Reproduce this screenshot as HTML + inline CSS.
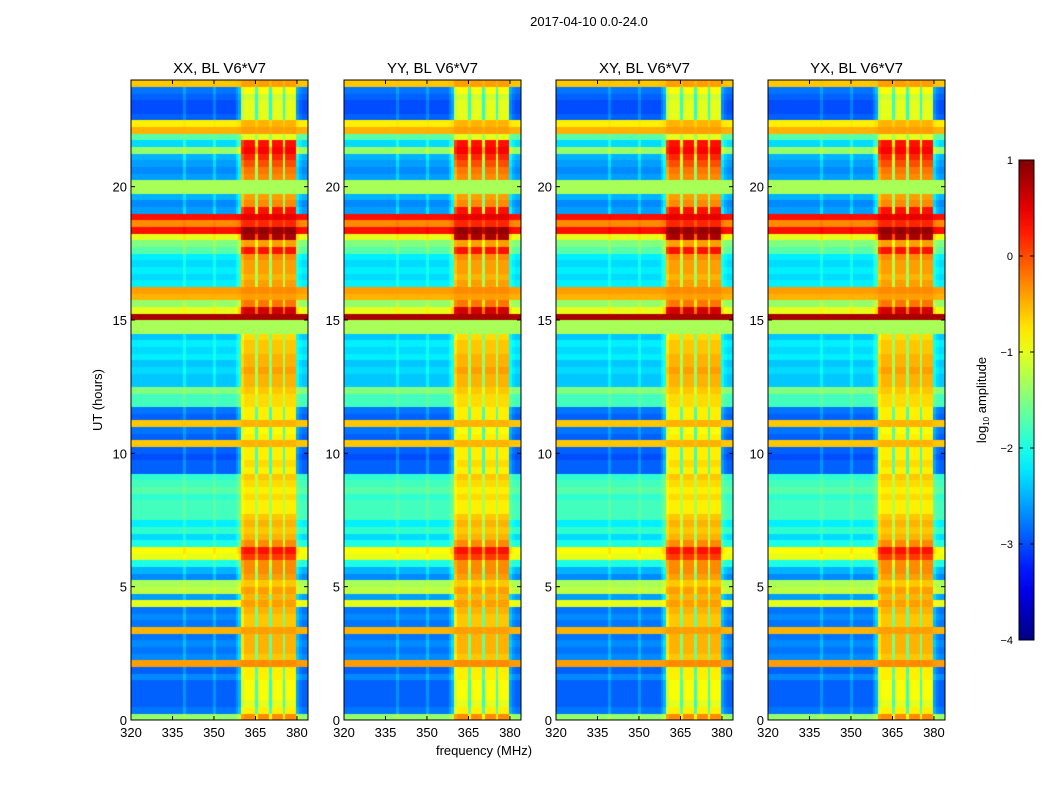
<!DOCTYPE html>
<html><head><meta charset="utf-8"><style>
html,body{margin:0;padding:0;background:#fff;width:1050px;height:800px;overflow:hidden}
#wrap{position:relative;width:1050px;height:800px}
canvas{position:absolute}
svg{position:absolute;left:0;top:0}
text{font-family:"Liberation Sans",sans-serif;fill:#000}
</style></head><body>
<div id="wrap">
<svg id="ov" width="1050" height="800"></svg>
</div>
<script>
// ---- data ----
const freqBins = [];            // 1 MHz channels 320..383
for (let f = 320; f < 384; f++) freqBins.push(f);
const colWeight = [0,0,0,0,0,0,0,0,0,0,0,0,0,0,0,0,0,0,0,0.12,0,0,0,0,0,0,0,0,0,0,0.12,0,0,0,0,0,0,0,0.1,0.2,
  0.9,1,1,1,1,0.55,1,1,1,1,0.5,1,1,1,1,0.55,1,1,1,1,0.15,0.05,0,0];
const rowBg = [-1.4,-2.8,-2.9,-2.9,-2.9,-2.9,-2.7,-2.9,-0.4,-2.7,-2.8,-2.7,-2.8,-0.5,-2.8,-2.7,
 -2.8,-1.0,-2.6,-1.2,-1.3,-2.7,-2.5,-2.0,-1.0,-0.9,-2.0,-2.3,-1.9,-2.2,-1.8,-1.8,
 -1.8,-1.9,-1.7,-1.8,-1.9,-2.9,-2.9,-3.0,-2.9,-0.6,-2.9,-2.8,-0.6,-2.9,-2.8,-1.8,
 -1.8,-1.5,-2.4,-2.4,-2.3,-2.4,-2.2,-2.3,-2.2,-2.4,-1.3,-1.3,0.8,-1.0,-1.4,-0.5,
 -0.4,-2.2,-2.3,-2.2,-2.3,-2.2,-1.7,-1.5,-1.0,0.3,-0.3,0.3,-2.6,-2.7,-2.5,-1.3,
 -1.3,-2.6,-2.7,-2.6,-2.5,-1.4,-2.3,-1.7,-0.5,-0.8,-2.9,-3.0,-3.0,-2.9,-2.8,-0.6];
const rowHot = [-0.3,-0.8,-1.0,-0.9,-0.9,-0.9,-0.8,-0.8,-0.3,-0.6,-0.5,-0.5,-0.5,-0.4,-0.6,-0.6,
 -0.5,-0.4,-0.5,-0.4,-0.6,-0.4,-0.3,-0.3,0.1,0.3,-0.3,-0.5,-0.6,-0.5,-0.6,-0.8,
 -0.8,-0.7,-0.8,-0.7,-0.6,-0.8,-0.7,-0.8,-0.8,-0.5,-0.8,-0.9,-0.5,-0.8,-0.8,-0.7,
 -0.7,-0.6,-0.5,-0.5,-0.4,-0.5,-0.5,-0.6,-0.6,-0.7,-1.3,-1.3,0.8,0.6,-0.2,-0.4,
 -0.3,-0.4,-0.5,-0.4,-0.4,-0.3,0.3,-0.4,0.8,0.9,0.2,0.5,0.3,-0.3,-0.4,-1.3,
 -1.3,-0.3,-0.2,0.0,0.2,0.4,0.3,-1.0,-0.4,-0.5,-1.0,-1.0,-1.0,-1.1,-0.9,-0.4];
const panelTitles = ["XX, BL V6*V7","YY, BL V6*V7","XY, BL V6*V7","YX, BL V6*V7"];
const xTicks = [320,335,350,365,380];
const yTicks = [0,5,10,15,20];
const cbTicks = [1,0,-1,-2,-3,-4];
</script>
<script>
const NS="http://www.w3.org/2000/svg";
const ov=document.getElementById('ov');
function mk(tag,attrs,txt){const e=document.createElementNS(NS,tag);for(const k in attrs)e.setAttribute(k,attrs[k]);if(txt!==undefined)e.textContent=txt;ov.appendChild(e);return e;}
function jet(v){
  const r=Math.min(Math.max(1.5-Math.abs(4*v-3),0),1);
  const g=Math.min(Math.max(1.5-Math.abs(4*v-2),0),1);
  const b=Math.min(Math.max(1.5-Math.abs(4*v-1),0),1);
  return `rgb(${Math.round(r*255)},${Math.round(g*255)},${Math.round(b*255)})`;
}
const vmin=-4,vmax=1;
const panelLeft=[131,344,556,768], pw=177, pTop=80, pBottom=720;
const fmin=320,fmax=384,tmin=0,tmax=24;
const X=(p,f)=>panelLeft[p]+(f-fmin)/(fmax-fmin)*pw;
const Y=h=>pBottom-(h-tmin)/(tmax-tmin)*(pBottom-pTop);
const t=mk('text',{x:589,y:26,'text-anchor':'middle','font-size':13},'2017-04-10 0.0-24.0');


for(let p=0;p<4;p++){
  const cv=document.createElement('canvas');
  cv.width=pw;cv.height=pBottom-pTop;cv.style.left=panelLeft[p]+'px';cv.style.top=pTop+'px';
  
  
  document.getElementById('wrap').insertBefore(cv,ov);
  const ctx=cv.getContext('2d');
  const nR=rowBg.length, dh=(tmax-tmin)/nR;
  for(let r=0;r<nR;r++){
    for(let c=0;c<freqBins.length;c++){
      const w=colWeight[c];
      const v=rowBg[r]+w*(rowHot[r]-rowBg[r]);
      ctx.fillStyle=jet((v-vmin)/(vmax-vmin));
      const x0=X(p,freqBins[c])-panelLeft[p], x1=X(p,freqBins[c]+1)-panelLeft[p];
      const y0=Y((r+1)*dh)-pTop, y1=Y(r*dh)-pTop;
      ctx.fillRect(Math.floor(x0),Math.floor(y0),Math.ceil(x1)-Math.floor(x0),Math.ceil(y1)-Math.floor(y0));
    }
  }
  const fr=mk('rect',{x:panelLeft[p],y:pTop,width:pw,height:pBottom-pTop,fill:'none',stroke:'#000','stroke-width':1});
  
  
  const tt=mk('text',{x:panelLeft[p]+pw/2,y:73,'text-anchor':'middle','font-size':15},panelTitles[p]);
  
  
  xTicks.forEach(f=>{
    const x=X(p,f);
    mk('line',{x1:x,x2:x,y1:pBottom,y2:pBottom-4,stroke:'#000'});
    mk('line',{x1:x,x2:x,y1:pTop,y2:pTop+4,stroke:'#000'});
    const l=mk('text',{x:x,y:737,'text-anchor':'middle','font-size':13},String(f));
    
    
  });
  yTicks.forEach(h=>{
    const y=Y(h);
    mk('line',{x1:panelLeft[p],x2:panelLeft[p]+4,y1:y,y2:y,stroke:'#000'});
    mk('line',{x1:panelLeft[p]+pw,x2:panelLeft[p]+pw-4,y1:y,y2:y,stroke:'#000'});
    const l=mk('text',{x:panelLeft[p]-4,y:y+5,'text-anchor':'end','font-size':13},String(h));
    
    
  });
}
const xl=mk('text',{x:484,y:755,'text-anchor':'middle','font-size':13},'frequency (MHz)');


const yl=mk('text',{x:102,y:400,'text-anchor':'middle','font-size':13,transform:'rotate(-90 102 400)'},'UT (hours)');


const cbx=1019,cbw=15,cbt=160,cbb=640;
const cbY=v=>cbb-(v-vmin)/(vmax-vmin)*(cbb-cbt);
const defs=mk('defs',{});
const lg=document.createElementNS(NS,'linearGradient');
lg.setAttribute('id','jetg');lg.setAttribute('x1','0');lg.setAttribute('y1','1');lg.setAttribute('x2','0');lg.setAttribute('y2','0');
for(let i=0;i<=20;i++){const s=document.createElementNS(NS,'stop');s.setAttribute('offset',i/20);s.setAttribute('stop-color',jet(i/20));lg.appendChild(s);}
defs.appendChild(lg);
const cb=mk('rect',{x:cbx,y:cbt,width:cbw,height:cbb-cbt,fill:'url(#jetg)',stroke:'#000'});


cbTicks.forEach(v=>{
  const y=cbY(v);
  mk('line',{x1:cbx,x2:cbx+4,y1:y,y2:y,stroke:'#000'});
  mk('line',{x1:cbx+cbw,x2:cbx+cbw-4,y1:y,y2:y,stroke:'#000'});
  const l=mk('text',{x:1013,y:y+4,'text-anchor':'end','font-size':11},v<0?'\u2212'+(-v):String(v));
  
  
});
const cl=mk('text',{x:986,y:400,'text-anchor':'middle','font-size':13,transform:'rotate(-90 986 400)'});


cl.innerHTML='log<tspan font-size="8" dy="3">10</tspan><tspan dy="-3"> amplitude</tspan>';
</script>
</body></html>
